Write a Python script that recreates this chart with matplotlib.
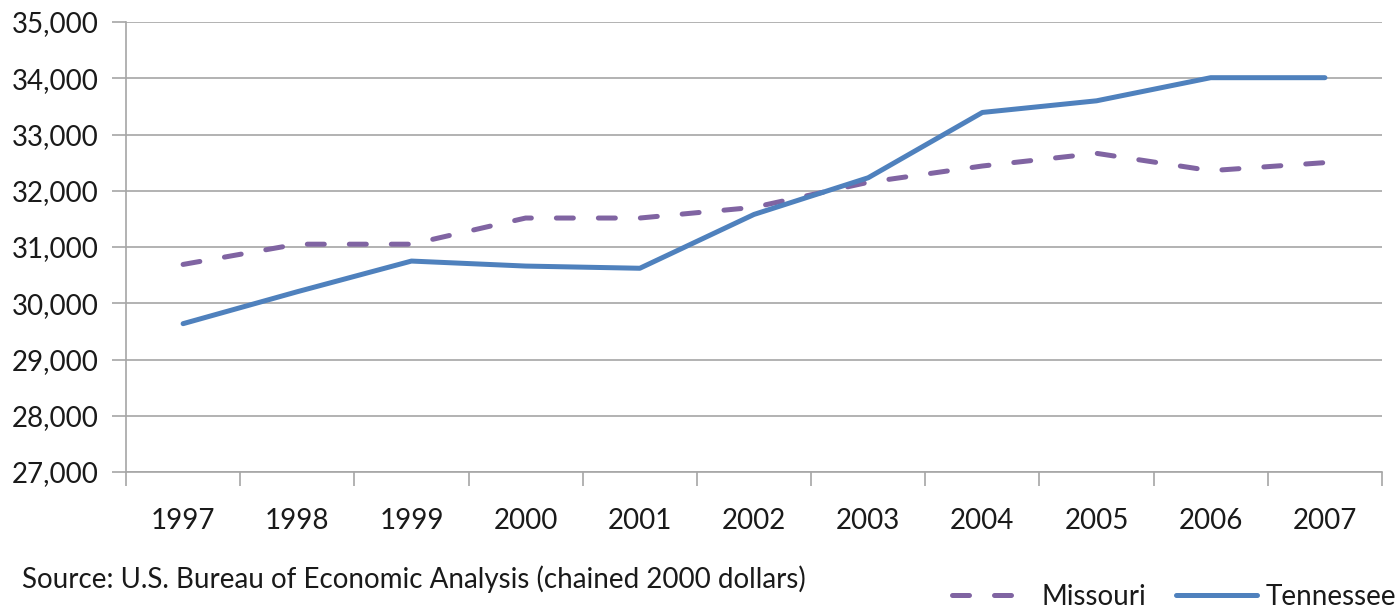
import matplotlib
matplotlib.use("Agg")
import matplotlib.pyplot as plt
from matplotlib.ticker import FuncFormatter, FixedLocator, NullFormatter

plt.rcParams['font.family'] = ['Lato', 'DejaVu Sans']

years = ["1997", "1998", "1999", "2000", "2001", "2002",
         "2003", "2004", "2005", "2006", "2007"]
missouri = [30690, 31050, 31050, 31515, 31515, 31705,
            32150, 32440, 32665, 32357, 32500]
tennessee = [29637, 30205, 30750, 30661, 30622, 31579,
             32231, 33392, 33599, 34010, 34010]

y_ticks = list(range(27000, 35001, 1000))

fig = plt.figure(figsize=(13.98, 6.10), dpi=100)
W, H = 1398, 610
ax = fig.add_axes([126 / W, 1 - 472 / H, (1382 - 126) / W, (472 - 22) / H])

x = list(range(len(years)))
grid_c = "#a6a6a6"
text_c = "#1a1a1a"
fs = 20

ax.plot(x, missouri, color="#8064a2", lw=3.6, dashes=(3.4, 5.0),
        dash_capstyle="round", solid_capstyle="round", label="Missouri", zorder=3)
ax.plot(x, tennessee, color="#4f81bd", lw=3.6, solid_capstyle="round",
        label="Tennessee", zorder=3)

ax.set_xlim(-0.5, len(years) - 0.5)
ax.set_ylim(27000, 35000)
ax.set_yticks(y_ticks)
ax.yaxis.set_major_formatter(FuncFormatter(lambda v, p: f"{int(v):,}"))
ax.grid(axis="y", color=grid_c, lw=1.2)
ax.set_axisbelow(True)

# category labels at centres, tick marks at category boundaries
ax.xaxis.set_major_locator(FixedLocator([i - 0.5 for i in range(len(years) + 1)]))
ax.xaxis.set_major_formatter(NullFormatter())
ax.xaxis.set_minor_locator(FixedLocator(x))
ax.xaxis.set_ticklabels(years, minor=True)
ax.tick_params(axis="x", which="minor", length=0, pad=26, labelsize=fs, labelcolor=text_c)
ax.tick_params(axis="x", which="major", length=10, width=1.2, color=grid_c, direction="out")
ax.tick_params(axis="y", length=10, width=1.2, color=grid_c, pad=10, labelsize=fs,
               labelcolor=text_c)

for s in ["top", "right"]:
    ax.spines[s].set_visible(False)
for s in ["left", "bottom"]:
    ax.spines[s].set_color(grid_c)
    ax.spines[s].set_linewidth(1.2)

fig.text(22 / W, 1 - 588 / H, "Source: U.S. Bureau of Economic Analysis (chained 2000 dollars)",
         fontsize=fs, color=text_c, va="baseline", ha="left")

leg = fig.legend(loc="center left", bbox_to_anchor=(952 / W, 1 - 597 / H), ncol=2,
                 frameon=False, fontsize=fs, handlelength=2.9, handletextpad=0.32,
                 columnspacing=1.08, borderpad=0, borderaxespad=0)
for t in leg.get_texts():
    t.set_color(text_c)

fig.savefig("out.png", dpi=100)
